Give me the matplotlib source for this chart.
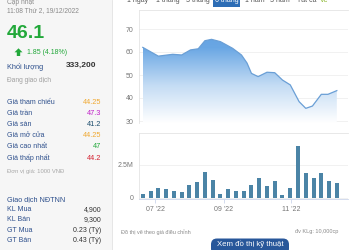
import numpy as np
import pandas as pd
import matplotlib
matplotlib.use('Agg')
import matplotlib.pyplot as plt
import matplotlib.dates as mdates
from matplotlib.patches import Rectangle, FancyBboxPatch, Polygon
from matplotlib.colors import LinearSegmentedColormap

plt.rcParams['font.family'] = ['Liberation Sans', 'DejaVu Sans']

# ---------------- data ----------------
update_label = "Cập nhật"
update_time = "11:08 Thứ 2, 19/12/2022"
last_price = "46.1"
change_text = "1.85 (4.18%)"
volume_label = "Khối lượng"
volume_value = "333,200"
status_text = "Đang giao dịch"
price_labels = ["Giá tham chiếu", "Giá trần", "Giá sàn", "Giá mở cửa", "Giá cao nhất", "Giá thấp nhất"]
price_values = ["44.25", "47.3", "41.2", "44.25", "47", "44.2"]
unit_text = "Đơn vị giá: 1000 VNĐ"
foreign_title = "Giao dịch NĐTNN"
foreign_labels = ["KL Mua", "KL Bán", "GT Mua", "GT Bán"]
foreign_values = ["4,900", "9,300", "0.23 (Tỷ)", "0.43 (Tỷ)"]
tabs = ["1 ngày", "1 tháng", "3 tháng", "6 tháng", "1 năm", "3 năm", "Tất cả", "Vẽ"]
note_left = "Đồ thị vẽ theo giá điều chỉnh"
note_right = "đv KLg: 10,000cp"
button_text = "Xem đồ thị kỹ thuật"

price_dates = ["2022-06-20", "2022-07-04", "2022-07-17", "2022-07-25", "2022-08-02",
               "2022-08-09", "2022-08-15", "2022-08-21", "2022-08-29", "2022-09-09",
               "2022-09-17", "2022-09-22", "2022-09-26", "2022-10-02", "2022-10-10",
               "2022-10-17", "2022-10-24", "2022-10-31", "2022-11-08", "2022-11-14",
               "2022-11-20", "2022-11-28", "2022-12-04", "2022-12-12"]
prices = [62.0, 58.2, 59.0, 58.7, 60.9, 61.4, 64.9, 65.5, 64.5, 61.6,
          58.7, 55.2, 50.7, 49.3, 51.2, 51.0, 47.8, 45.7, 38.4, 35.5,
          36.5, 41.6, 41.6, 43.2]

vol_start = "2022-06-20"
volumes = [0.25, 0.50, 0.76, 0.66, 0.53, 0.45, 0.96, 1.19, 1.97, 1.34,
           0.28, 0.68, 0.53, 0.48, 0.96, 1.52, 0.91, 1.24, 0.18, 0.73,
           3.91, 1.84, 1.46, 1.87, 1.24, 1.14]  # millions

xtick_dates = ["2022-07-01", "2022-09-01", "2022-11-01"]
xtick_labels = ["07 '22", "09 '22", "11 '22"]
price_yticks = [30, 40, 50, 60, 70]
vol_yticks = [0, 2.5]
vol_ytick_labels = ["0", "2.5M"]

# ---------------- figure ----------------
W, H = 350, 250
fig = plt.figure(figsize=(W / 100, H / 100), dpi=100)
fig.patch.set_facecolor('white')

bg = fig.add_axes([0, 0, 1, 1], zorder=0)
bg.set_xlim(0, W)
bg.set_ylim(H, 0)
bg.axis('off')

# left panel
bg.add_patch(Rectangle((0, 0), 112, H, facecolor='#f6f6f6', edgecolor='none'))
bg.plot([112, 112], [0, H], color='#e2e2e2', lw=0.6)

label_c = '#2d4f8c'
gray = '#8a8a8a'
green = '#22a83a'

bg.text(7, 3.0, update_label, fontsize=4.8, color=gray, va='center', ha='left')
bg.text(7, 10.9, update_time, fontsize=4.8, color=gray, va='center', ha='left')
bg.text(6.5, 33.6, last_price, fontsize=14, fontweight='bold', color=green, va='center', ha='left')
bg.add_patch(Polygon([(14.5, 52.3), (18.5, 48.3), (22.5, 52.3), (20.2, 52.3), (20.2, 56),
                      (16.8, 56), (16.8, 52.3)], closed=True, facecolor=green, edgecolor='none'))
bg.text(27.3, 52.3, change_text, fontsize=5.0, color=green, va='center', ha='left')
bg.text(7, 66.7, volume_label, fontsize=5.3, color=label_c, va='center', ha='left')
bg.text(96, 65.5, volume_value, fontsize=6.0, fontweight='bold', color='#333333', va='center', ha='right')
bg.text(7, 80, status_text, fontsize=4.8, color='#a0a0a0', va='center', ha='left')

row_y = [102.3, 113.3, 124.2, 135.3, 147.0, 158.3]
val_colors = ['#f0a830', '#c020c8', '#1d4e6e', '#f0a830', '#22a83a', '#d42030']
for lab, val, yy, c in zip(price_labels, price_values, row_y, val_colors):
    bg.text(7, yy, lab, fontsize=5.0, color=label_c, va='center', ha='left')
    bg.text(101.5, yy, val, fontsize=5.3, color=c, va='center', ha='right')

bg.text(7, 171.8, unit_text, fontsize=4.2, color='#a8a8a8', va='center', ha='left')
bg.text(7, 199.3, foreign_title, fontsize=5.2, color=label_c, va='center', ha='left')
f_y = [209.5, 219.8, 230.5, 241.0]
for lab, val, yy in zip(foreign_labels, foreign_values, f_y):
    bg.text(7, yy, lab, fontsize=5.0, color=label_c, va='center', ha='left')
    bg.text(101.5, yy, val, fontsize=5.0, color='#333333', va='center', ha='right')

# tabs (cut at the top edge, as in the screenshot)
tab_x = [137.5, 168, 197.5, 226.5, 254.5, 280, 306.5, 324]
bg.add_patch(Rectangle((213, -6), 27, 12.5, facecolor='#2d6db5', edgecolor='none'))
for t, x in zip(tabs, tab_x):
    c = '#555555'
    if t == "6 tháng":
        c = 'white'
    elif t == "Vẽ":
        c = '#8cb830'
    bg.text(x, 0.8, t, fontsize=5.0, color=c, va='center', ha='center')

# notes & button
bg.text(121, 232, note_left, fontsize=4.0, color='#8a8a8a', va='center', ha='left')
bg.text(338, 232, note_right, fontsize=4.0, color='#8a8a8a', va='center', ha='right')
bg.add_patch(FancyBboxPatch((211, 238.5), 78, 16, boxstyle='round,pad=0,rounding_size=6',
                            facecolor='#28579a', edgecolor='none'))
bg.text(250, 244.3, button_text, fontsize=5.6, color='white', va='center', ha='center')

# ---------------- price chart ----------------
def d2n(s):
    return mdates.date2num(pd.to_datetime(s))

ref = d2n("2022-07-01")
dpp = 0.902  # days per pixel
x_lo = ref - (155 - 139) * dpp
x_hi = ref + (348 - 155) * dpp

px = d2n(price_dates)
ax = fig.add_axes([139 / W, 1 - 123 / H, (348 - 139) / W, (123 - 10) / H], zorder=1)
ax.set_facecolor('none')
y_lo = 30 - (123 - 121) / 2.3
y_hi = 30 + (121 - 10) / 2.3
ax.set_xlim(x_lo, x_hi)
ax.set_ylim(y_lo, y_hi)

fill = ax.fill_between(px, prices, y_lo, facecolor='none', edgecolor='none')
cmap = LinearSegmentedColormap.from_list('g', ['#ffffff', '#c4dcf4', '#6aa7e4', '#5a9be0'])
grad = np.linspace(1, 0, 256).reshape(-1, 1)
im = ax.imshow(grad, cmap=cmap, aspect='auto', extent=[px[0], px[-1], y_lo, y_hi],
               origin='upper', zorder=2)
im.set_clip_path(fill.get_paths()[0], transform=ax.transData)
ax.plot(px, prices, color='#6a9fd6', lw=0.9, zorder=3)

ax.set_yticks(price_yticks)
ax.set_yticklabels([str(v) for v in price_yticks])
ax.tick_params(axis='y', length=0, labelsize=5, labelcolor='#777777', pad=4)
ax.set_xticks([])
ax.grid(axis='y', color='#ececec', lw=0.5, zorder=0)
ax.set_axisbelow(True)
for s in ['right', 'bottom']:
    ax.spines[s].set_visible(False)
for s in ['left', 'top']:
    ax.spines[s].set_color('#e4e4e4')
    ax.spines[s].set_linewidth(0.6)

# ---------------- volume chart ----------------
vx = mdates.date2num(pd.date_range(vol_start, periods=len(volumes), freq='7D'))
axv = fig.add_axes([139 / W, 1 - 199 / H, (348 - 139) / W, (199 - 133) / H], zorder=1)
axv.set_facecolor('none')
axv.set_xlim(x_lo, x_hi)
v_lo = -(199 - 197.7) / 13.2
v_hi = (197.7 - 133) / 13.2
axv.set_ylim(v_lo, v_hi)
axv.bar(vx, volumes, width=3.6, color='#4b84a6', zorder=2)
axv.set_yticks(vol_yticks)
axv.set_yticklabels(vol_ytick_labels)
axv.tick_params(axis='y', length=0, labelsize=5, labelcolor='#777777', pad=4)
axv.set_xticks(d2n(xtick_dates))
axv.set_xticklabels(xtick_labels)
axv.tick_params(axis='x', length=3, width=0.6, color='#ccd6eb', labelsize=5,
                labelcolor='#777777', pad=2)
axv.grid(axis='y', color='#ececec', lw=0.5, zorder=0)
axv.set_axisbelow(True)
axv.spines['right'].set_visible(False)
for s in ['left', 'top']:
    axv.spines[s].set_color('#e4e4e4')
    axv.spines[s].set_linewidth(0.6)
axv.spines['bottom'].set_color('#ccd6eb')
axv.spines['bottom'].set_linewidth(0.6)

fig.savefig('out.png', dpi=100)
